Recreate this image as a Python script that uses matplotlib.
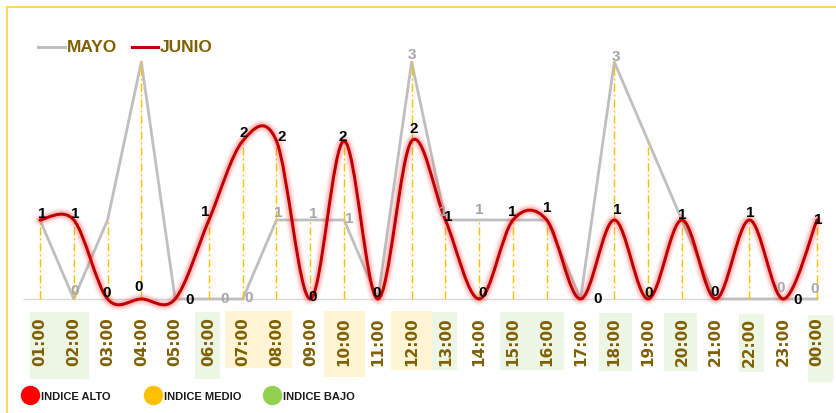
import matplotlib
matplotlib.use('Agg')
import matplotlib.pyplot as plt
import matplotlib.transforms as mtransforms
from matplotlib.path import Path
from matplotlib.patches import PathPatch, Rectangle
from matplotlib.lines import Line2D

# data
hours = ['01:00', '02:00', '03:00', '04:00', '05:00', '06:00', '07:00', '08:00',
         '09:00', '10:00', '11:00', '12:00', '13:00', '14:00', '15:00', '16:00',
         '17:00', '18:00', '19:00', '20:00', '21:00', '22:00', '23:00', '00:00']
mayo = [1, 0, 1, 3, 0, 0, 0, 1, 1, 1, 0, 3, 1, 1, 1, 1, 0, 3, 2, 1, 0, 0, 0, 0]
junio = [1, 1, 0, 0, 0, 1, 2, 2, 0, 2, 0, 2, 1, 0, 1, 1, 0, 1, 0, 1, 0, 1, 0, 1]

# label offsets in pixels (dx, dy downwards) - only some MAYO labels are visible
junio_lbl = [(2, -6), (1, -6), (-1, -6), (-3, -12), (15, 1), (-4, -8), (1, -8), (5, -4),
             (2, -2), (-1, -4), (-1, -6), (2, -12), (3, -3), (3, -6), (-1, -8), (1, -12),
             (17, 0), (3, -10), (1, -6), (0, -5), (-1, -7), (1, -7), (14, 1), (1, 0)]
mayo_lbl = {1: (1, -8), 5: (16, 0), 6: (6, -1), 7: (2, -7), 8: (3, -6), 9: (5, -1),
            11: (0, -7), 12: (-2, -8), 13: (0, -10), 17: (2, -5), 22: (-3, -11), 23: (-2, -10)}

GREEN_BG = '#EDF5E4'
YELLOW_BG = '#FFF4D4'
# (first hour idx, last hour idx, left pad, right pad, colour, top px, bottom px)
boxes = [(1, 2, 0.30, 0.45, GREEN_BG, 312, 379),
         (6, 6, 0.41, 0.33, GREEN_BG, 312, 379),
         (7, 8, 0.53, 0.45, YELLOW_BG, 311, 368),
         (10, 10, 0.59, 0.62, YELLOW_BG, 311, 377),
         (12, 12, 0.61, 0.61, YELLOW_BG, 311, 370),
         (13, 13, 0.39, 0.33, GREEN_BG, 312, 370),
         (15, 16, 0.37, 0.52, GREEN_BG, 312, 370),
         (18, 18, 0.44, 0.53, GREEN_BG, 313, 371),
         (20, 20, 0.52, 0.46, GREEN_BG, 313, 371),
         (22, 22, 0.30, 0.44, GREEN_BG, 314, 372),
         (24, 24, 0.26, 0.48, GREEN_BG, 315, 382)]

W, H = 836, 413
fig = plt.figure(figsize=(W / 100, H / 100), dpi=100)


def fx(px):
    return px / W


def fy(py):
    return 1 - py / H


def smooth_path(xs, ys):
    # excel-like smoothed line: cubic bezier through the points
    pts = list(zip(xs, ys))
    n = len(pts)
    verts = [pts[0]]
    codes = [Path.MOVETO]
    for i in range(n - 1):
        p0 = pts[max(i - 1, 0)]
        p1 = pts[i]
        p2 = pts[i + 1]
        p3 = pts[min(i + 2, n - 1)]
        c1 = (p1[0] + (p2[0] - p0[0]) / 6, p1[1] + (p2[1] - p0[1]) / 6)
        c2 = (p2[0] - (p3[0] - p1[0]) / 6, p2[1] - (p3[1] - p1[1]) / 6)
        verts += [c1, c2, p2]
        codes += [Path.CURVE4] * 3
    return Path(verts, codes)


ax = fig.add_axes([fx(23.1), fy(312), fx(833.9) - fx(23.1), fy(30.4) - fy(312)])
ax.set_xlim(0.5, 24.5)
ax.set_ylim(-0.165, 3.4)
ax.patch.set_visible(False)
for s in ax.spines.values():
    s.set_visible(False)

x = list(range(1, len(hours) + 1))

ax.hlines(0, 0.5, 24, color='#D9D9D9', lw=1, zorder=1)
ax.plot(x, mayo, color='#BFBFBF', lw=2, zorder=2)
tops = [max(a, b) for a, b in zip(mayo, junio)]
ax.vlines(x, 0, tops, colors='#FFC000', lw=1, linestyles=(0, (6, 2, 1.5, 2)), zorder=3)

path = smooth_path(x, junio)
for lw, al in [(9, 0.06), (7, 0.10), (5, 0.18)]:
    ax.add_patch(PathPatch(path, fill=False, edgecolor='#FF3B3B', lw=lw, alpha=al,
                           capstyle='round', joinstyle='round', zorder=4, clip_on=False))
ax.add_patch(PathPatch(path, fill=False, edgecolor='#C00000', lw=2.2,
                       capstyle='round', zorder=5, clip_on=False))

lbl_font = dict(fontsize=11, fontweight='bold', family=['Liberation Sans', 'DejaVu Sans'],
                ha='center', va='center', textcoords='offset pixels', zorder=6)
for i, (dx, dy) in mayo_lbl.items():
    ax.annotate(str(mayo[i]), (x[i], mayo[i]), xytext=(dx, -dy), color='#A6A6A6', **lbl_font)
for i, (dx, dy) in enumerate(junio_lbl):
    ax.annotate(str(junio[i]), (x[i], junio[i]), xytext=(dx, -dy), color='black', **lbl_font)

ax.set_yticks([])
ax.set_xticks(x)
ax.set_xticklabels(hours, rotation=90, fontsize=11, fontweight='bold', color='#7F6000')
ax.tick_params(axis='x', length=0, pad=4)

trans = mtransforms.blended_transform_factory(ax.transData, fig.transFigure)
for a, b, lp, rp, col, top, bot in boxes:
    ax.add_patch(Rectangle((a - lp, fy(bot)), (b - a) + lp + rp, fy(top) - fy(bot),
                           transform=trans, facecolor=col, edgecolor='none',
                           zorder=0, clip_on=False))

# top legend
leg_font = dict(fontsize=12.5, fontweight='bold', color='#7F6000',
                family=['Liberation Sans', 'DejaVu Sans'], ha='left', va='center')
fig.add_artist(Line2D([fx(38), fx(65)], [fy(47), fy(47)], color='#BFBFBF', lw=2.2))
fig.text(fx(67), fy(47), 'MAYO', **leg_font)
fig.add_artist(Line2D([fx(132), fx(158)], [fy(47), fy(47)], color='#C00000', lw=2.2))
fig.text(fx(160), fy(47), 'JUNIO', **leg_font)

# bottom legend
for cx, col, txt in [(30, '#FF0000', 'INDICE ALTO'), (153, '#FFC000', 'INDICE MEDIO'),
                     (272, '#92D050', 'INDICE BAJO')]:
    fig.add_artist(Line2D([fx(cx)], [fy(395)], marker='o', markersize=13, color=col,
                          linestyle='none'))
    fig.text(fx(cx + 11), fy(397), txt, fontsize=8, fontweight='bold', color='#1A1A1A',
             family=['Liberation Sans', 'DejaVu Sans'], ha='left', va='center')

# chart border (top and left visible)
fig.add_artist(Line2D([fx(7), fx(7)], [fy(7), 0], color='#FFD966', lw=1.5))
fig.add_artist(Line2D([fx(7), 1], [fy(7), fy(7)], color='#FFD966', lw=1.5))

fig.savefig('out.png', dpi=100)
